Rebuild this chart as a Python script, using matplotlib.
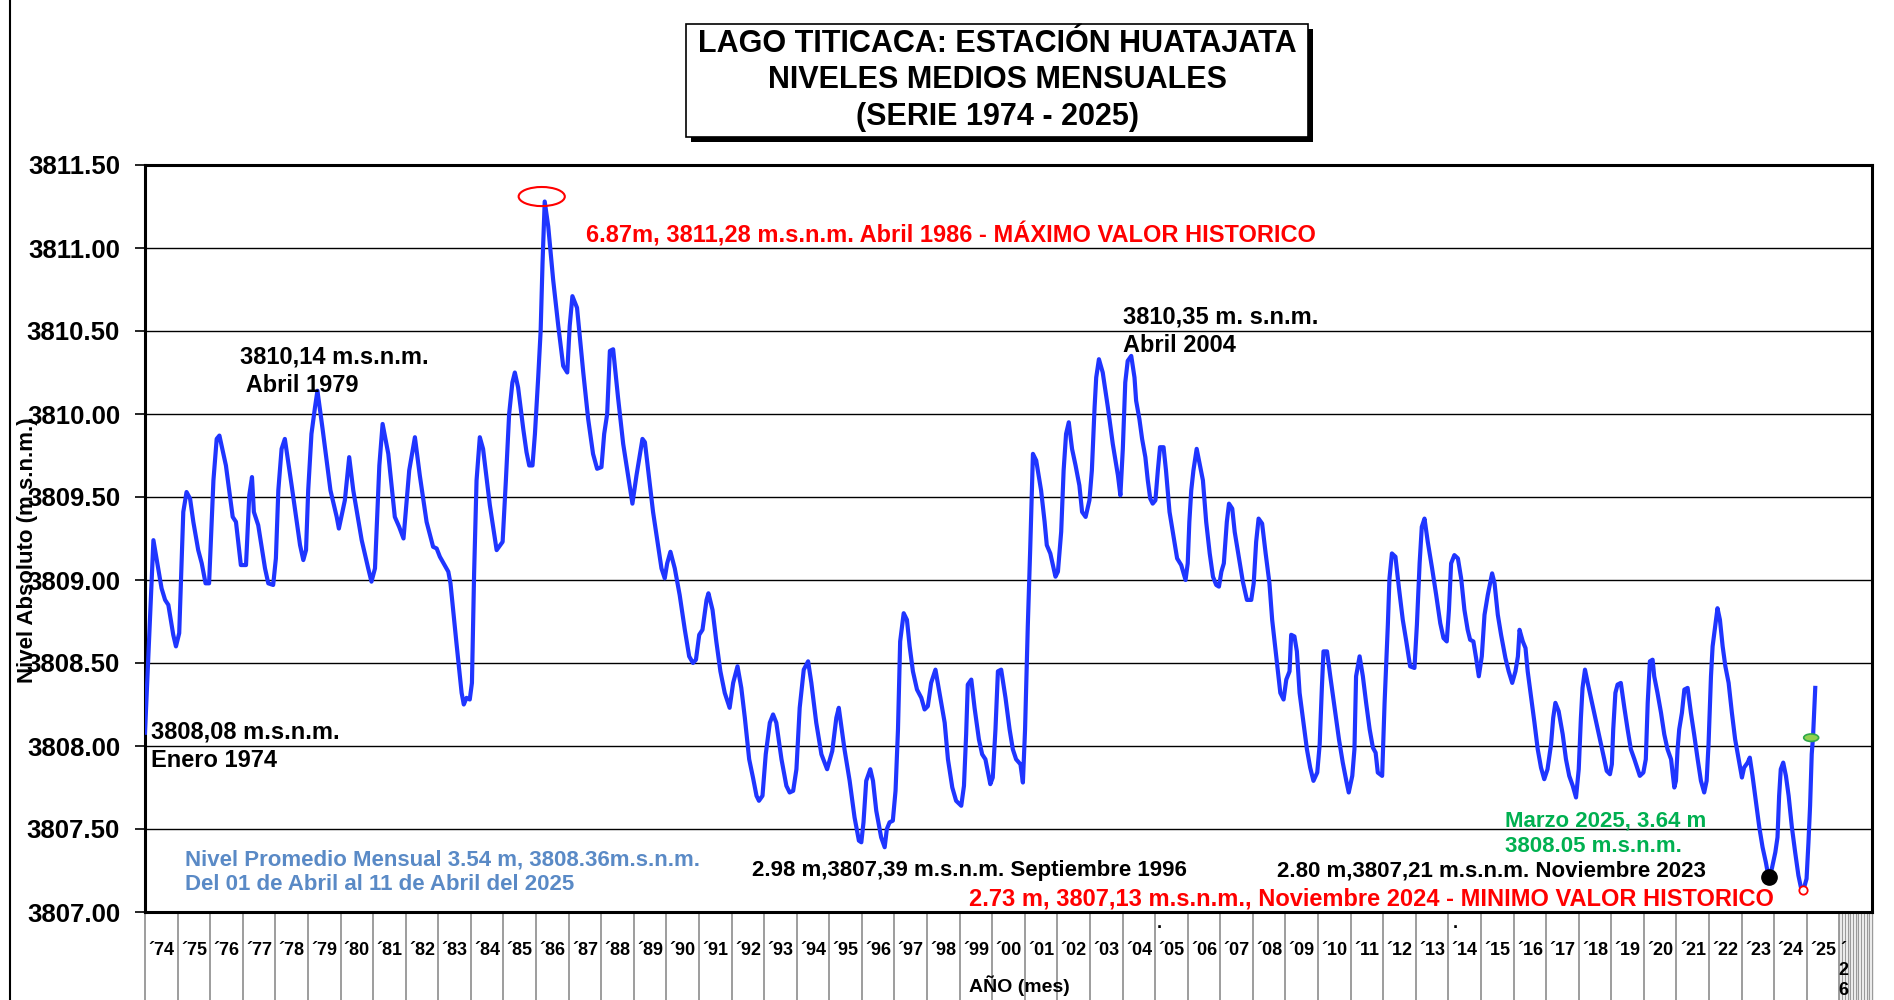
import numpy as np
import matplotlib
matplotlib.use('Agg')
import matplotlib.pyplot as plt
from matplotlib.patches import Rectangle, Ellipse
from matplotlib.lines import Line2D

plt.rcParams['font.family'] = ['Liberation Sans', 'DejaVu Sans']
plt.rcParams['font.weight'] = 'bold'

# --- data: position in months since Jan 1974, level in m.s.n.m.
months = [
    0.0, 3.1, 6.1, 7.4, 8.6, 10.4, 11.4, 12.6, 14.1, 15.3, 16.6, 17.8, 19.6, 20.9, 22.3, 23.6,
    25.2, 26.4, 27.4, 29.8, 32.3, 33.5, 35.3, 37.2, 38.4, 39.4, 40.1, 41.7, 44.2, 45.4, 47.2,
    48.2, 49.1, 50.3, 51.5, 54.0, 57.1, 58.3, 59.3, 60.1, 61.3, 62.6, 63.5, 65.4, 68.3, 70.6,
    71.4, 73.6, 75.2, 76.7, 79.8, 82.2, 83.4, 84.7, 86.3, 87.5, 89.6, 92.0, 93.6, 95.2, 97.3,
    99.4, 101.2, 103.7, 106.1, 107.4, 108.6, 111.7, 112.5, 114.7, 116.6, 117.4, 118.4, 119.6,
    120.4, 121.2, 122.1, 123.3, 124.5, 127.0, 129.5, 131.7, 132.9, 134.1, 135.3, 136.2, 137.4,
    139.3, 140.5, 141.5, 142.7, 143.6, 144.8, 145.7, 146.4, 147.2, 148.5, 150.3, 152.2, 154.0,
    155.5, 156.4, 157.4, 159.1, 160.1, 161.4, 163.2, 165.0, 166.5, 168.1, 169.1, 170.2, 171.2,
    172.4, 174.2, 176.1, 177.9, 179.5, 181.0, 183.2, 184.1, 185.3, 187.1, 189.0, 190.2, 191.4,
    192.3, 193.5, 195.1, 196.9, 198.8, 200.4, 201.8, 202.9, 204.1, 205.3, 206.8, 207.5, 209.0,
    210.4, 211.9, 213.5, 215.3, 216.6, 218.2, 219.6, 220.9, 222.5, 223.9, 225.2, 226.1, 227.4,
    228.6, 230.1, 231.3, 232.5, 234.4, 236.2, 237.4, 238.7, 239.9, 241.1, 242.6, 244.2, 245.4,
    247.2, 249.1, 251.2, 253.1, 254.6, 255.5, 257.6, 259.5, 261.3, 262.9, 263.8, 264.6, 265.6,
    267.1, 268.1, 269.3, 271.1, 272.4, 273.2, 274.2, 275.4, 276.4, 277.3, 278.1, 279.4, 280.6,
    281.6, 282.8, 284.3, 285.9, 287.1, 288.3, 289.5, 291.1, 292.6, 294.5, 295.7, 297.3, 298.7,
    300.6, 301.6, 302.4, 303.0, 304.3, 305.5, 307.1, 308.3, 309.5, 311.3, 312.2, 313.2, 314.1,
    315.3, 316.9, 318.4, 319.6, 320.8, 322.4, 323.3, 324.1, 325.1, 326.0, 327.0, 328.2, 330.0,
    331.3, 332.1, 333.4, 335.3, 336.2, 337.4, 338.3, 339.2, 340.2, 341.4, 342.7, 344.1, 345.1,
    346.4, 347.8, 348.7, 349.7, 350.3, 351.3, 352.7, 354.6, 356.4, 358.3, 359.2, 360.1, 361.0,
    361.9, 363.2, 364.4, 365.0, 366.2, 367.2, 368.4, 369.3, 370.2, 371.1, 372.1, 373.0, 373.8,
    375.1, 376.0, 377.3, 378.5, 380.1, 381.6, 383.2, 384.0, 384.6, 385.3, 386.1, 387.3, 389.6,
    390.8, 392.1, 393.3, 394.5, 395.5, 396.4, 397.3, 398.4, 399.2, 400.4, 401.3, 402.9, 404.3,
    405.8, 407.4, 408.3, 409.2, 410.1, 411.4, 412.7, 414.1, 415.1, 416.6, 418.1, 419.3, 420.3,
    421.5, 422.1, 423.3, 424.2, 425.2, 426.4, 427.9, 429.1, 430.3, 431.7, 432.6, 433.4, 434.0,
    435.3, 436.5, 438.1, 439.7, 441.1, 442.4, 443.3, 444.6, 445.4, 446.0, 447.3, 448.5, 449.7,
    451.0, 452.2, 453.2, 454.0, 455.6, 456.5, 457.7, 458.3, 459.2, 460.5, 461.8, 463.2, 464.5,
    465.9, 467.5, 468.4, 469.4, 470.2, 471.2, 472.4, 474.0, 475.5, 477.0, 478.2, 479.4, 480.2,
    481.0, 482.2, 483.5, 484.7, 485.9, 487.1, 488.0, 489.2, 490.2, 491.2, 492.3, 493.3, 494.5,
    496.1, 497.0, 498.2, 499.4, 501.0, 502.2, 503.5, 504.7, 505.6, 506.2, 507.4, 508.4, 509.2,
    510.5, 511.7, 512.9, 514.1, 515.3, 516.5, 517.8, 518.6, 519.4, 520.6, 522.1, 523.3, 524.5,
    525.8, 527.0, 528.0, 528.8, 529.4, 530.3, 531.3, 532.5, 533.7, 535.0, 536.2, 537.4, 538.3,
    539.5, 540.2, 540.7, 541.5, 542.3, 543.5, 544.8, 546.0, 547.2, 548.5, 549.7, 550.5, 551.8,
    552.7, 553.4, 554.2, 555.2, 555.8, 557.0, 558.3, 559.5, 560.7, 562.0, 563.2, 563.8, 564.4,
    565.0, 566.0, 566.9, 568.1, 569.3, 570.5, 571.8, 573.0, 574.2, 575.1, 575.8, 576.7, 577.3,
    578.3, 579.1, 580.0, 581.0, 582.0, 583.2, 584.4, 585.6, 586.9, 588.1, 588.9, 590.2, 591.0,
    592.0, 593.2, 594.5, 595.7, 596.9, 597.9, 599.1, 600.4, 601.2, 601.8, 602.4, 603.3, 604.3,
    605.3, 606.5, 607.7, 608.9, 609.8, 610.7, 611.9, 612.6, 613.2, 613.8, 614.3, 615.1,
]
levels = [
    3808.08, 3809.24, 3808.95, 3808.88, 3808.85, 3808.67, 3808.60, 3808.68, 3809.41, 3809.53,
    3809.49, 3809.35, 3809.18, 3809.10, 3808.98, 3808.98, 3809.60, 3809.85, 3809.87, 3809.69,
    3809.38, 3809.35, 3809.09, 3809.09, 3809.51, 3809.62, 3809.41, 3809.33, 3809.07, 3808.98,
    3808.97, 3809.13, 3809.54, 3809.79, 3809.85, 3809.57, 3809.21, 3809.12, 3809.18, 3809.54,
    3809.88, 3810.04, 3810.14, 3809.91, 3809.54, 3809.38, 3809.31, 3809.48, 3809.74, 3809.54,
    3809.24, 3809.07, 3808.99, 3809.07, 3809.69, 3809.94, 3809.76, 3809.38, 3809.32, 3809.25,
    3809.66, 3809.86, 3809.63, 3809.35, 3809.20, 3809.19, 3809.14, 3809.05, 3808.98, 3808.62,
    3808.32, 3808.25, 3808.29, 3808.28, 3808.38, 3809.04, 3809.60, 3809.86, 3809.79, 3809.45,
    3809.18, 3809.23, 3809.60, 3810.00, 3810.19, 3810.25, 3810.16, 3809.91, 3809.77, 3809.69,
    3809.69, 3809.88, 3810.22, 3810.50, 3810.91, 3811.28, 3811.13, 3810.81, 3810.53, 3810.29,
    3810.25, 3810.53, 3810.71, 3810.64, 3810.47, 3810.25, 3809.97, 3809.76, 3809.67, 3809.68,
    3809.88, 3810.00, 3810.38, 3810.39, 3810.10, 3809.82, 3809.63, 3809.46, 3809.63, 3809.85,
    3809.83, 3809.66, 3809.41, 3809.20, 3809.07, 3809.01, 3809.10, 3809.17, 3809.07, 3808.91,
    3808.70, 3808.54, 3808.50, 3808.52, 3808.67, 3808.70, 3808.88, 3808.92, 3808.82, 3808.63,
    3808.45, 3808.32, 3808.23, 3808.38, 3808.48, 3808.35, 3808.17, 3807.92, 3807.81, 3807.70,
    3807.67, 3807.70, 3807.95, 3808.14, 3808.19, 3808.14, 3807.92, 3807.76, 3807.72, 3807.73,
    3807.86, 3808.23, 3808.46, 3808.51, 3808.38, 3808.14, 3807.95, 3807.86, 3807.97, 3808.17,
    3808.23, 3807.98, 3807.79, 3807.57, 3807.43, 3807.42, 3807.54, 3807.79, 3807.86, 3807.79,
    3807.61, 3807.45, 3807.39, 3807.50, 3807.54, 3807.55, 3807.73, 3808.10, 3808.63, 3808.80,
    3808.76, 3808.60, 3808.45, 3808.34, 3808.29, 3808.22, 3808.24, 3808.38, 3808.46, 3808.32,
    3808.14, 3807.92, 3807.75, 3807.67, 3807.64, 3807.76, 3808.07, 3808.37, 3808.40, 3808.23,
    3808.04, 3807.95, 3807.92, 3807.77, 3807.81, 3808.10, 3808.45, 3808.46, 3808.29, 3808.10,
    3807.98, 3807.92, 3807.89, 3807.78, 3808.10, 3808.72, 3809.19, 3809.76, 3809.72, 3809.54,
    3809.35, 3809.21, 3809.16, 3809.02, 3809.05, 3809.29, 3809.66, 3809.88, 3809.95, 3809.79,
    3809.69, 3809.57, 3809.41, 3809.38, 3809.48, 3809.66, 3810.04, 3810.22, 3810.33, 3810.25,
    3810.04, 3809.82, 3809.63, 3809.51, 3809.79, 3810.19, 3810.32, 3810.35, 3810.22, 3810.08,
    3809.97, 3809.85, 3809.74, 3809.60, 3809.49, 3809.46, 3809.48, 3809.66, 3809.80, 3809.80,
    3809.66, 3809.41, 3809.29, 3809.13, 3809.09, 3809.00, 3809.10, 3809.35, 3809.54, 3809.66,
    3809.79, 3809.60, 3809.35, 3809.16, 3809.02, 3808.97, 3808.96, 3809.05, 3809.10, 3809.35,
    3809.46, 3809.43, 3809.29, 3809.13, 3808.99, 3808.88, 3808.88, 3808.98, 3809.23, 3809.37,
    3809.34, 3809.16, 3808.98, 3808.76, 3808.54, 3808.32, 3808.28, 3808.40, 3808.45, 3808.67,
    3808.66, 3808.57, 3808.32, 3808.17, 3807.98, 3807.87, 3807.79, 3807.84, 3808.01, 3808.35,
    3808.57, 3808.57, 3808.42, 3808.23, 3808.04, 3807.90, 3807.79, 3807.72, 3807.82, 3807.98,
    3808.42, 3808.54, 3808.42, 3808.26, 3808.10, 3807.99, 3807.96, 3807.84, 3807.82, 3808.26,
    3808.73, 3809.01, 3809.16, 3809.14, 3808.95, 3808.76, 3808.63, 3808.48, 3808.47, 3808.73,
    3809.10, 3809.32, 3809.37, 3809.23, 3809.07, 3808.91, 3808.74, 3808.65, 3808.63, 3808.82,
    3809.10, 3809.15, 3809.13, 3809.01, 3808.82, 3808.70, 3808.64, 3808.63, 3808.53, 3808.42,
    3808.54, 3808.79, 3808.91, 3809.04, 3808.98, 3808.79, 3808.67, 3808.53, 3808.45, 3808.38,
    3808.45, 3808.54, 3808.70, 3808.63, 3808.59, 3808.45, 3808.29, 3808.14, 3807.98, 3807.87,
    3807.80, 3807.86, 3808.01, 3808.17, 3808.26, 3808.21, 3808.07, 3807.92, 3807.82, 3807.76,
    3807.69, 3807.86, 3808.17, 3808.35, 3808.46, 3808.38, 3808.29, 3808.20, 3808.10, 3808.01,
    3807.92, 3807.85, 3807.83, 3807.89, 3808.10, 3808.32, 3808.37, 3808.38, 3808.23, 3808.10,
    3807.98, 3807.92, 3807.86, 3807.82, 3807.84, 3807.92, 3808.26, 3808.51, 3808.52, 3808.42,
    3808.32, 3808.20, 3808.07, 3807.98, 3807.92, 3807.75, 3807.79, 3807.98, 3808.10, 3808.20,
    3808.34, 3808.35, 3808.20, 3808.07, 3807.92, 3807.79, 3807.72, 3807.79, 3808.01, 3808.42,
    3808.60, 3808.73, 3808.83, 3808.76, 3808.60, 3808.48, 3808.38, 3808.20, 3808.04, 3807.92,
    3807.81, 3807.87, 3807.90, 3807.93, 3807.82, 3807.67, 3807.51, 3807.39, 3807.30, 3807.21,
    3807.26, 3807.36, 3807.45, 3807.70, 3807.86, 3807.90, 3807.82, 3807.70, 3807.51, 3807.36,
    3807.22, 3807.15, 3807.13, 3807.20, 3807.42, 3807.64, 3807.95, 3808.06, 3808.35,
]

years = list(range(1974, 2026))
year_labels = ["\u00b4%02d" % (y % 100) for y in years]

# highlighted points (month position, level)
max_pt = (147.2, 3811.28)
min23_pt = (597.9, 3807.21)
min24_pt = (610.7, 3807.13)
mar25_pt = (613.6, 3808.05)

BLUE = '#1f35ff'
RED = '#ff0000'
GREEN = '#00b050'
STEEL = '#5a8ac6'

fig = plt.figure(figsize=(18.94, 10), dpi=100)
ax = fig.add_axes([145 / 1894, 1 - 912 / 1000, (1872 - 145) / 1894, (912 - 165) / 1000])

ax.plot(months, levels, color=BLUE, lw=3.0, solid_joinstyle='round', zorder=3)

ax.set_xlim(0, 636)
ax.set_ylim(3807.0, 3811.5)
ax.set_yticks(np.arange(3807.0, 3811.51, 0.5))
ax.set_yticklabels(['%.2f' % v for v in np.arange(3807.0, 3811.51, 0.5)], fontsize=18.5, fontweight='bold')
ax.tick_params(axis='y', length=7, width=1.2, pad=11)
ax.set_xticks([])
ax.yaxis.grid(True, color='black', lw=1.0)
ax.set_axisbelow(True)
for s in ax.spines.values():
    s.set_linewidth(2.2)

# year cells under the axis
xt = ax.get_xaxis_transform()
ax.vlines([12 * k for k in range(len(years) + 1)], -0.118, 0, transform=xt,
          color='#8c8c8c', lw=1.2, clip_on=False)
ax.vlines(np.arange(12 * len(years), 12 * len(years) + 13, 1), -0.118, 0, transform=xt,
          color='#9a9a9a', lw=1.0, clip_on=False)
for k, lab in enumerate(year_labels):
    ax.text(12 * k + 6, -0.051, lab, transform=xt, ha='center', va='center',
            fontsize=13, fontweight='bold')
ax.text(12 * len(years) + 1.5, -0.078, "\u00b4\n2\n6", transform=xt, ha='center', va='center',
        fontsize=13, fontweight='bold', linespacing=1.25)
ax.text(12 * 31 + 1.5, -0.016, ".", transform=xt, ha='center', va='center', fontsize=13)
ax.text(12 * 40 + 2.5, -0.016, ".", transform=xt, ha='center', va='center', fontsize=13)
ax.text(322, -0.098, "AÑO (mes)", transform=xt, ha='center', va='center',
        fontsize=14, fontweight='bold')

# markers
ax.add_patch(Ellipse((max_pt[0] - 1.1, max_pt[1] + 0.03), 17, 0.115, fill=False,
                     edgecolor=RED, lw=1.5, zorder=4))
ax.plot(*min23_pt, 'o', color='black', ms=11, zorder=5)
ax.plot(*min24_pt, 'o', mfc='white', mec=RED, mew=1.3, ms=6, zorder=5)
ax.add_patch(Ellipse(mar25_pt, 5.5, 0.045, facecolor='#92d050', edgecolor='#2ea84a',
                     lw=1.2, zorder=5))

# annotations
fs = 17
fs2 = 16
ax.text(162.3, 3811.08, "6.87m, 3811,28 m.s.n.m. Abril 1986 - MÁXIMO VALOR HISTORICO",
        color=RED, fontsize=fs, fontweight='bold', va='center')
ax.text(35.0, 3810.26, "3810,14 m.s.n.m.\n Abril 1979", fontsize=fs, fontweight='bold',
        va='center', linespacing=1.3)
ax.text(2.2, 3808.00, "3808,08 m.s.n.m.\nEnero 1974", fontsize=fs, fontweight='bold',
        va='center', linespacing=1.3)
ax.text(360.0, 3810.50, "3810,35 m. s.n.m.\nAbril 2004", fontsize=fs, fontweight='bold',
        va='center', linespacing=1.3)
ax.text(14.7, 3807.24, "Nivel Promedio Mensual 3.54 m, 3808.36m.s.n.m.\nDel 01 de Abril al 11 de Abril del 2025",
        color=STEEL, fontsize=fs2, fontweight='bold', va='center', linespacing=1.25)
ax.text(223.4, 3807.25, "2.98 m,3807,39 m.s.n.m. Septiembre 1996", fontsize=fs2,
        fontweight='bold', va='center')
ax.text(417.0, 3807.25, "2.80 m,3807,21 m.s.n.m. Noviembre 2023", fontsize=fs2,
        fontweight='bold', va='center')
ax.text(303.3, 3807.08, "2.73 m, 3807,13 m.s.n.m., Noviembre 2024 - MINIMO VALOR HISTORICO",
        color=RED, fontsize=fs, fontweight='bold', va='center')
ax.text(501.0, 3807.47, "Marzo 2025, 3.64 m\n3808.05 m.s.n.m.", color=GREEN, fontsize=fs2,
        fontweight='bold', va='center', linespacing=1.25)

# y label (overlaps the tick labels, as in the original)
fig.text(28 / 1894, 0.45, "Nivel Absoluto (m.s.n.m.)", rotation=90, ha='center', va='center',
         fontsize=16, fontweight='bold')

# left border line
fig.add_artist(Line2D([10 / 1894, 10 / 1894], [0, 1], color='black', lw=1.5))

# title box with shadow
bx, by, bw, bh = 686 / 1894, 1 - 137 / 1000, 622 / 1894, 113 / 1000
fig.add_artist(Rectangle((bx + 5 / 1894, by - 0.005), bw, bh, transform=fig.transFigure,
                         facecolor='black', edgecolor='black', lw=0))
fig.add_artist(Rectangle((bx, by), bw, bh, transform=fig.transFigure,
                         facecolor='white', edgecolor='black', lw=1.2))
fig.text(bx + bw / 2, by + bh / 2, "LAGO TITICACA: ESTACIÓN HUATAJATA\nNIVELES MEDIOS MENSUALES\n(SERIE 1974 - 2025)",
         ha='center', va='center', fontsize=22, fontweight='bold', linespacing=1.29)

fig.savefig('out.png', dpi=100)
